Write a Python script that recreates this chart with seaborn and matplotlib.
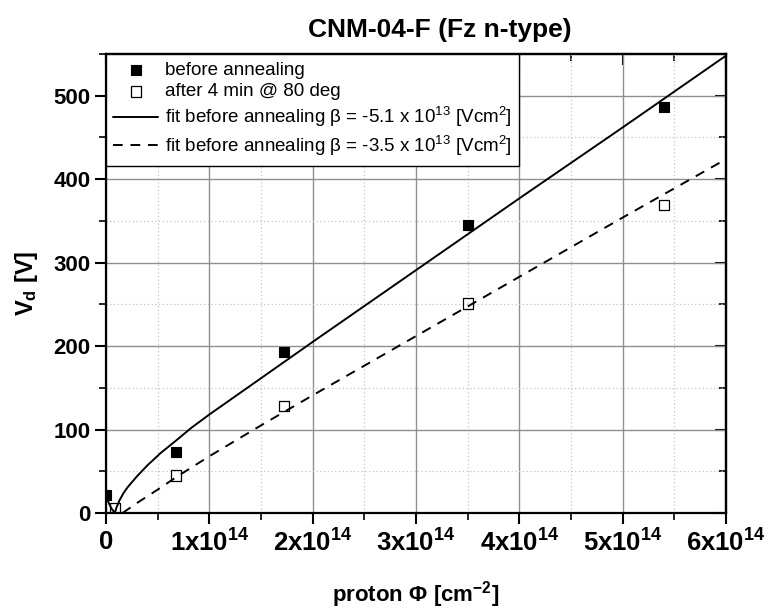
import numpy as np
import pandas as pd
import matplotlib
matplotlib.use("Agg")
import matplotlib.pyplot as plt
import seaborn as sns
from matplotlib.ticker import MultipleLocator, FixedLocator, FixedFormatter, NullFormatter

# ---------------- data ----------------
fluence_before = [0.0, 0.68e14, 1.72e14, 3.50e14, 5.40e14]
vd_before = [21, 73, 193, 345, 486]

fluence_after = [0.09e14, 0.68e14, 1.72e14, 3.50e14, 5.40e14]
vd_after = [6, 45, 128, 251, 369]

fit_before_x = [0.0, 0.02e14, 0.05e14, 0.085e14, 0.10e14, 0.13e14, 0.17e14, 0.21e14,
                0.30e14, 0.40e14, 0.53e14, 0.68e14, 0.825e14, 1.0e14, 2.0e14, 3.0e14,
                4.0e14, 5.0e14, 6.0e14]
fit_before_y = [21, 14, 6, 0, 6, 15, 24, 31, 44, 57, 72, 87, 102, 118, 205, 291, 377,
                462, 548]

fit_after_x = [0.16e14, 0.30e14, 0.50e14, 0.68e14, 1.0e14, 1.5e14, 2.0e14, 3.0e14,
               4.0e14, 5.0e14, 6.0e14]
fit_after_y = [0, 12, 28, 43, 68, 105, 141, 212, 283, 354, 424]

x_ticks = [0, 1e14, 2e14, 3e14, 4e14, 5e14, 6e14]
x_tick_labels = ["0", "1x10$^{14}$", "2x10$^{14}$", "3x10$^{14}$",
                 "4x10$^{14}$", "5x10$^{14}$", "6x10$^{14}$"]
y_ticks = [0, 100, 200, 300, 400, 500]
y_tick_labels = ["0", "100", "200", "300", "400", "500"]

title = "CNM-04-F (Fz n-type)"
label_before = "before annealing"
label_after = "after 4 min @ 80 deg"
label_fit1 = "fit before annealing β = -5.1 x 10$^{13}$ [Vcm$^{2}$]"
label_fit2 = "fit before annealing β = -3.5 x 10$^{13}$ [Vcm$^{2}$]"

# ---------------- style ----------------
sns.set_theme(style="white")
plt.rcParams["font.family"] = ["Liberation Sans", "DejaVu Sans"]
plt.rcParams["mathtext.default"] = "regular"
for k in ["text.color", "axes.labelcolor", "xtick.color", "ytick.color", "axes.edgecolor"]:
    plt.rcParams[k] = "black"

fig = plt.figure(figsize=(7.69, 6.11), dpi=100)
ax = fig.add_axes([106 / 769, 1 - 513 / 611, (726 - 106) / 769, (513 - 54) / 611])

# grid
ax.set_axisbelow(True)
ax.xaxis.set_major_locator(FixedLocator(x_ticks))
ax.xaxis.set_major_formatter(FixedFormatter(x_tick_labels))
ax.xaxis.set_minor_locator(MultipleLocator(0.5e14))
ax.yaxis.set_major_locator(FixedLocator(y_ticks))
ax.yaxis.set_major_formatter(FixedFormatter(y_tick_labels))
ax.yaxis.set_minor_locator(MultipleLocator(50))
ax.grid(which="major", color="#8f8f8f", lw=1.0, ls="-")
ax.grid(which="minor", color="#c4c4c4", lw=0.9, ls=(0, (1, 2)))

# data
df_b = pd.DataFrame({"x": fluence_before, "y": vd_before})
df_a = pd.DataFrame({"x": fluence_after, "y": vd_after})
df_f1 = pd.DataFrame({"x": fit_before_x, "y": fit_before_y})
df_f2 = pd.DataFrame({"x": fit_after_x, "y": fit_after_y})

sns.lineplot(data=df_f1, x="x", y="y", sort=False, estimator=None, color="black",
             lw=1.4, label=label_fit1, ax=ax, zorder=3)
sns.lineplot(data=df_f2, x="x", y="y", sort=False, estimator=None, color="black",
             lw=1.4, dashes=False, label=label_fit2, ax=ax, zorder=3)
ax.lines[-1].set_linestyle((0, (5, 4)))

sns.scatterplot(data=df_b, x="x", y="y", marker="s", s=55, color="black",
                edgecolor="black", linewidth=0.8, label=label_before, ax=ax, zorder=4)
sns.scatterplot(data=df_a, x="x", y="y", marker="s", s=55, facecolors="none",
                edgecolors="black", linewidth=0.9, label=label_after, ax=ax, zorder=4)

ax.set_xlim(0, 6e14)
ax.set_ylim(0, 550)

# spines & ticks
for sp in ax.spines.values():
    sp.set_visible(True)
    sp.set_color("black")
    sp.set_linewidth(1.6)
ax.tick_params(which="major", direction="out", length=8, width=1.5, color="black",
               labelsize=16, pad=3, labelcolor="black")
ax.tick_params(which="minor", direction="out", length=5, width=1.2, color="black")
ax.tick_params(axis="both", which="both", bottom=True, left=True, top=False, right=False)
for lab in ax.get_xticklabels() + ax.get_yticklabels():
    lab.set_fontweight("bold")
ax.tick_params(axis="x", labelsize=18.5, pad=4)

# mirrored inward ticks on top and right
secx = ax.secondary_xaxis("top")
secx.xaxis.set_major_locator(FixedLocator(x_ticks))
secx.xaxis.set_minor_locator(MultipleLocator(0.5e14))
secx.xaxis.set_major_formatter(NullFormatter())
secx.tick_params(which="major", direction="in", length=8, width=1.5, color="black")
secx.tick_params(which="minor", direction="in", length=5, width=1.2, color="black")
secx.spines["top"].set_linewidth(1.6)
secy = ax.secondary_yaxis("right")
secy.yaxis.set_major_locator(FixedLocator(y_ticks))
secy.yaxis.set_minor_locator(MultipleLocator(50))
secy.yaxis.set_major_formatter(NullFormatter())
secy.tick_params(which="major", direction="in", length=8, width=1.5, color="black")
secy.tick_params(which="minor", direction="in", length=5, width=1.2, color="black")
secy.spines["right"].set_linewidth(1.6)

# labels
ax.set_xlabel("proton Φ [cm$^{-2}$]", fontsize=16, fontweight="bold", labelpad=16,
              color="black")
ax.set_ylabel("V$_d$ [V]", fontsize=17, fontweight="bold", labelpad=10, color="black")
fig.text(440 / 769, 1 - 30 / 611, title, ha="center", va="center",
         fontsize=19, fontweight="bold", color="black")

# legend
h, l = ax.get_legend_handles_labels()
order = [l.index(label_before), l.index(label_after), l.index(label_fit1), l.index(label_fit2)]
leg = ax.legend([h[i] for i in order], [l[i] for i in order], loc="upper left",
                bbox_to_anchor=(0, 1), borderaxespad=0, frameon=True, fancybox=False,
                edgecolor="black", framealpha=1, fontsize=13.5, handlelength=2.4,
                handletextpad=0.35, labelspacing=0.25, borderpad=0.4, markerscale=1.0)
leg.get_frame().set_linewidth(1.0)
leg.set_zorder(10)
for t in leg.get_texts():
    t.set_color("black")

fig.savefig("out.png", dpi=100)
